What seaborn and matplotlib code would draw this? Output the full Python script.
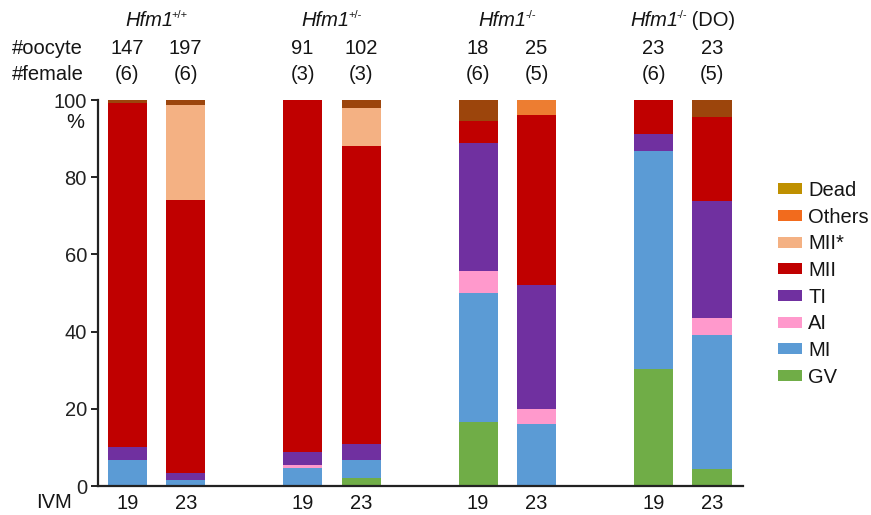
import matplotlib
matplotlib.use("Agg")
import matplotlib.pyplot as plt
import seaborn as sns
import numpy as np
import pandas as pd
from matplotlib.patches import Patch
from matplotlib.offsetbox import TextArea, HPacker, AnnotationBbox

sns.set_style("white")
plt.rcParams['font.family'] = ['Liberation Sans', 'DejaVu Sans']
TXT = "#151515"
FS = 14.5

# ---- data ----
positions = [0, 1, 3, 4, 6, 7, 9, 10]
ivm = ["19", "23", "19", "23", "19", "23", "19", "23"]
oocytes = ["147", "197", "91", "102", "18", "25", "23", "23"]
females = ["(6)", "(6)", "(3)", "(3)", "(6)", "(5)", "(6)", "(5)"]
group_gene = ["Hfm1", "Hfm1", "Hfm1", "Hfm1"]
group_geno = ["+/+", "+/-", "-/-", "-/-"]
group_suffix = ["", "", "", " (DO)"]

categories = ["GV", "MI", "AI", "TI", "MII", "MII*", "Others", "Dead"]
GV     = [0.0, 0.0, 0.0, 2.0, 16.7, 0.0, 30.4, 4.3]
MI     = [6.8, 1.5, 4.6, 4.7, 33.3, 16.0, 56.5, 34.8]
AI     = [0.0, 0.0, 0.8, 0.0, 5.6, 4.0, 0.0, 4.4]
TI     = [3.4, 1.8, 3.5, 4.2, 33.3, 32.0, 4.4, 30.4]
MII    = [89.1, 70.8, 91.1, 77.2, 5.6, 44.0, 8.7, 21.8]
MIIs   = [0.0, 24.6, 0.0, 9.9, 0.0, 0.0, 0.0, 0.0]
Others = [0.0, 0.0, 0.0, 0.0, 0.0, 4.0, 0.0, 0.0]
Dead   = [0.7, 1.3, 0.0, 2.0, 5.5, 0.0, 0.0, 4.3]

bar_colors = {"GV": "#70AD47", "MI": "#5B9BD5", "AI": "#FF99CC", "TI": "#7030A0",
              "MII": "#C00000", "MII*": "#F4B183", "Others": "#ED7D31", "Dead": "#9C450C"}
legend_colors = {"GV": "#70AD47", "MI": "#5B9BD5", "AI": "#FF99CC", "TI": "#7030A0",
                 "MII": "#C00000", "MII*": "#F4B183", "Others": "#F26B1D", "Dead": "#BF9000"}

series = [GV, MI, AI, TI, MII, MIIs, Others, Dead]
cum = np.cumsum(np.array(series), axis=0)

fig = plt.figure(figsize=(8.71, 5.15), dpi=100)
ax = fig.add_axes([98/871, 1-486/515, (743-98)/871, 386/515])

# draw stacked bars from top category down
for i in range(len(categories) - 1, -1, -1):
    df = pd.DataFrame({"x": positions, "y": cum[i]})
    sns.barplot(data=df, x="x", y="y", native_scale=True, color=bar_colors[categories[i]],
                width=0.67, saturation=1, linewidth=0, ax=ax, errorbar=None)

ax.set_xlim(-0.5, 10.53)
ax.set_ylim(0, 100)
ax.set_xlabel("")
ax.set_ylabel("")
sns.despine(ax=ax)
for s in ["left", "bottom"]:
    ax.spines[s].set_linewidth(1.6)
    ax.spines[s].set_color("#222222")
ax.set_yticks([0, 20, 40, 60, 80, 100])
ax.set_yticklabels(["0", "20", "40", "60", "80", "100"], fontsize=FS, color=TXT)
ax.tick_params(axis="y", direction="out", length=5, width=1.4, left=True, pad=3, colors="#222222")
ax.tick_params(axis="x", bottom=False)
ax.set_xticks(positions)
ax.set_xticklabels(ivm, fontsize=FS, color=TXT)
ax.tick_params(axis="x", pad=2.5)

fig.text(75/871, 1-122/515, "%", fontsize=FS, ha="center", va="center", color=TXT)

# header rows
trans = ax.get_xaxis_transform()
fig.text(12/871, 1-48/515, "#oocyte", fontsize=FS, ha="left", va="center", color=TXT)
fig.text(12/871, 1-75/515, "#female", fontsize=FS, ha="left", va="center", color=TXT)
fig.text(72/871, 1-502/515, "IVM", fontsize=FS, ha="right", va="center", color=TXT)
for p, o, f in zip(positions, oocytes, females):
    ax.text(p, (486-48)/386, o, transform=trans, fontsize=FS, ha="center", va="center", color=TXT)
    ax.text(p, (486-75)/386, f, transform=trans, fontsize=FS, ha="center", va="center", color=TXT)
for gi in range(4):
    xc = (positions[2*gi] + positions[2*gi+1]) / 2
    parts = [TextArea(group_gene[gi], textprops=dict(fontsize=FS, style="italic", color=TXT)),
             TextArea(group_geno[gi], textprops=dict(fontsize=8, color=TXT))]
    if group_suffix[gi]:
        parts.append(TextArea(group_suffix[gi], textprops=dict(fontsize=FS, color=TXT)))
    box = HPacker(children=parts, align="top", pad=0, sep=-1)
    ab = AnnotationBbox(box, (xc, (486-20)/386), xycoords=trans, frameon=False,
                        box_alignment=(0.5, 0.5), pad=0, annotation_clip=False)
    ax.add_artist(ab)

# legend
handles = [Patch(facecolor=legend_colors[c], edgecolor="none", label=c)
           for c in reversed(categories)]
leg = fig.legend(handles=handles, loc="upper left", bbox_to_anchor=(778/871, 1-181/515),
                 frameon=False, fontsize=FS, handlelength=1.2, handleheight=0.45,
                 labelspacing=0.38, handletextpad=0.3, borderaxespad=0, borderpad=0)
for t in leg.get_texts():
    t.set_color(TXT)

fig.savefig("out.png", dpi=100)
